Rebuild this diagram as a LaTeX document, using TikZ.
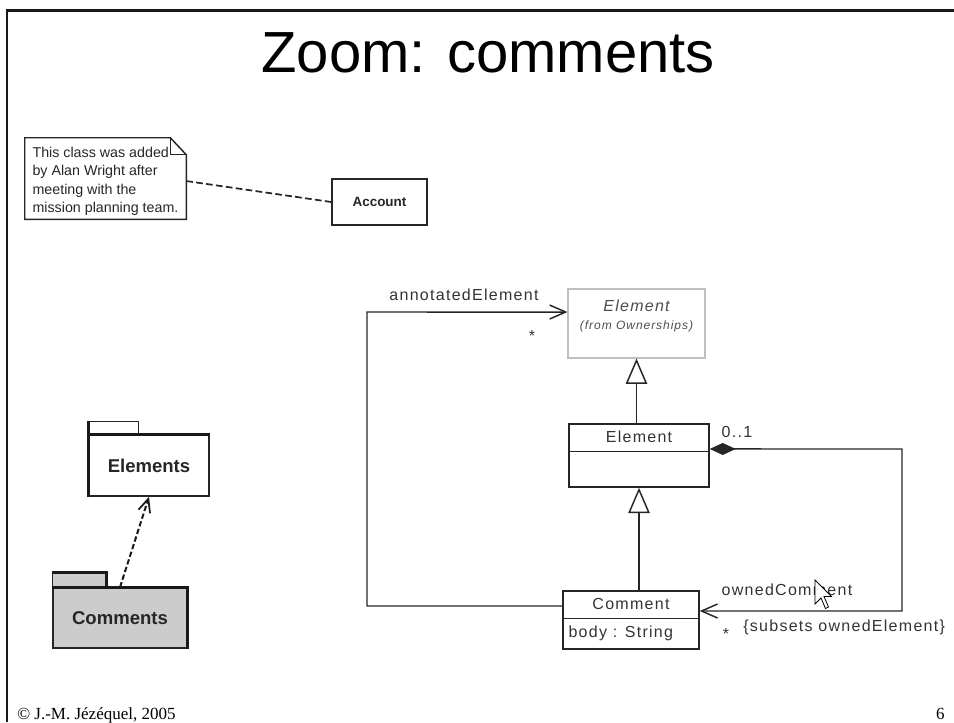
\documentclass[tikz,border=0pt]{standalone}
\usepackage{fontspec}
\setmainfont{Liberation Sans}
\newfontfamily\umlfont[LetterSpace=8]{Liberation Sans}
\newfontfamily\footfont{Liberation Serif}
\usetikzlibrary{arrows.meta,calc}
\begin{document}
\begin{tikzpicture}[x=0.75pt,y=-0.75pt,
  umlline/.style={draw=black!85, line width=1.1pt},
  classbox/.style={draw=black!85, line width=1.1pt, inner sep=0pt},
  umltext/.style={font=\umlfont\fontsize{12pt}{14pt}\selectfont, text=black!80, inner sep=0pt},
  smalltext/.style={font=\umlfont\fontsize{9pt}{11pt}\selectfont\itshape, text=black!70, inner sep=0pt},
  gen/.style={umlline, -{Triangle[open, length=19pt, width=16pt, line width=1.1pt]}},
  barb/.style={-{Straight Barb[length=12pt, width=10.5pt, line width=1.1pt]}},
  notelink/.style={draw=black!85, line width=1.3pt, dash pattern=on 5pt off 2.5pt},
  pkgbox/.style={draw=black!85, line width=1.1pt, inner sep=0pt, font=\bfseries\fontsize{13.9pt}{16pt}\selectfont, text=black!85},
  dep/.style={draw=black!90, line width=1.5pt, dash pattern=on 4pt off 2pt, -{Straight Barb[length=10pt, width=9pt, line width=1.3pt]}}
]
\useasboundingbox (0,0) rectangle (954,722);

% frame
\draw[line width=2pt, black!90] (7,722) -- (7,10.5) -- (954,10.5);

% title
\node[anchor=base, font=\fontsize{43.5pt}{52pt}\selectfont, inner sep=0pt] (title) at (488,72) {Zoom: comments};

% note and Account
\node[minimum width=120.75pt, minimum height=60.75pt, inner sep=0pt] (note) at (105.5,178.5) {};
\node[inner sep=0pt, align=left, font=\fontsize{10.7pt}{13.9pt}\selectfont, text=black!85] (notetext)
  at ($(note.center)+(0,3)$)
  {This class was added\\by Alan Wright after\\meeting with the\\mission planning team.};
\draw[black!85, line width=1.1pt, line join=miter]
  (note.north west) -- ($(note.north east)+(-16,0)$) -- ($(note.north east)+(0,17)$)
  -- (note.south east) -- (note.south west) -- cycle;
\draw[black!85, line width=1.1pt] ($(note.north east)+(-16,0)$) |- ($(note.north east)+(0,17)$);
\node[classbox, minimum width=71.25pt, minimum height=34.5pt,
      font=\bfseries\fontsize{10.1pt}{12pt}\selectfont, text=black!85] (account) at (379.5,202) {Account};
\draw[notelink] ([yshift=-1.9pt]note.east) -- (account.west);

% Element (from Ownerships)
\node[draw=black!25, line width=0.8pt, minimum width=102.75pt, minimum height=51.75pt, inner sep=0pt] (elemO) at (636.5,323.5) {};
\node[umltext, font=\umlfont\fontsize{12pt}{14pt}\selectfont\itshape, text=black!70] (elemOname) at ($(elemO.north)+(0,17)$) {Element};
\node[smalltext] (elemOfrom) at ($(elemO.north)+(0,38)$) {(from Ownerships)};

% Element class
\node[classbox, minimum width=105pt, minimum height=47.25pt] (elem) at (639,455.5) {};
\node[umltext] (elemname) at ($(elem.north)+(0,14)$) {Element};
\draw[umlline] ($(elem.north west)+(0,28)$) -- ($(elem.north east)+(0,28)$);

% Comment class
\node[classbox, minimum width=102pt, minimum height=43.5pt] (comment) at (631,620) {};
\node[umltext] (commentname) at ($(comment.north)+(0,14)$) {Comment};
\draw[umlline] ($(comment.north west)+(0,28)$) -- ($(comment.north east)+(0,28)$);
\node[umltext, anchor=west] (commentattr) at ($(comment.north west)+(6,43)$) {body : String};

% generalizations
\draw[gen] (elem.north -| elemO.south) -- (elemO.south);
\draw[gen] (comment.north -| elem.south) -- (elem.south);

% ownedComment composition
\coordinate (ownR) at (902,449);
\draw[umlline, {Diamond[length=19.5pt, width=9pt]}-{Straight Barb[length=12pt, width=10.5pt, line width=1.1pt]}]
  ([yshift=4.9pt]elem.east) -- (ownR) |- ([yshift=6.75pt]comment.east);
\node[umltext] (mult01) at (737,432) {0..1};
\node[umltext] (ownedlbl) at (787,590) {ownedComment};
\node[umltext, anchor=base] (ownedstar) at (726,639) {*};
\node[umltext, anchor=west] (subsets) at (743,627) {\{subsets ownedElement\}};

% cursor
\draw[fill=white, draw=black, line width=0.6pt, line join=miter]
  (815,580) -- ++(0,24) -- ++(6,-6) -- ++(4.5,10.5) -- ++(3,-1.5) -- ++(-4.5,-10.5) -- ++(7.5,0) -- cycle;

% annotatedElement association
\coordinate (annL) at (367,312);
\draw[umlline, barb] ([yshift=10.5pt]comment.west) -| (annL) -- ([yshift=8.6pt]elemO.west);
\node[umltext] (annlbl) at (464,295) {annotatedElement};
\node[umltext, anchor=base] (annstar) at (532,341) {*};

% packages
\node[pkgbox, minimum width=90pt, minimum height=45.75pt, fill=white] (pkgE) at (149,465.5) {Elements};
\draw[black!85, line width=1.1pt] (pkgE.north west) rectangle ($(pkgE.north west)+(50,-13)$);
\draw[black!90, line width=2.4pt] (pkgE.south west) -- (pkgE.north west) -- (pkgE.north east);
\draw[black!90, line width=2pt] ($(pkgE.north west)+(0,-13)$) -- (pkgE.north west);

\node[pkgbox, minimum width=100.5pt, minimum height=45pt, fill=black!20] (pkgC) at (120,618) {Comments};
\draw[black!85, line width=1.1pt, fill=black!20] (pkgC.north west) rectangle ($(pkgC.north west)+(54,-15)$);
\draw[black!90, line width=2.4pt] (pkgC.north west) -- (pkgC.north east) -- (pkgC.south east);
\draw[black!90, line width=2pt] ($(pkgC.north west)+(0,-15)$) -- ($(pkgC.north west)+(54,-15)$) -- ($(pkgC.north west)+(54,0)$);

\draw[dep] (pkgC.north) -- (pkgE.south);

% footer
\node[anchor=base west, inner sep=0pt, font=\footfont\fontsize{12.75pt}{15pt}\selectfont] (foot) at (17,719) {© J.-M. Jézéquel, 2005};
\node[anchor=base east, inner sep=0pt, font=\footfont\fontsize{12.75pt}{15pt}\selectfont] (pagenum) at (945,719) {6};
\end{tikzpicture}
\end{document}
